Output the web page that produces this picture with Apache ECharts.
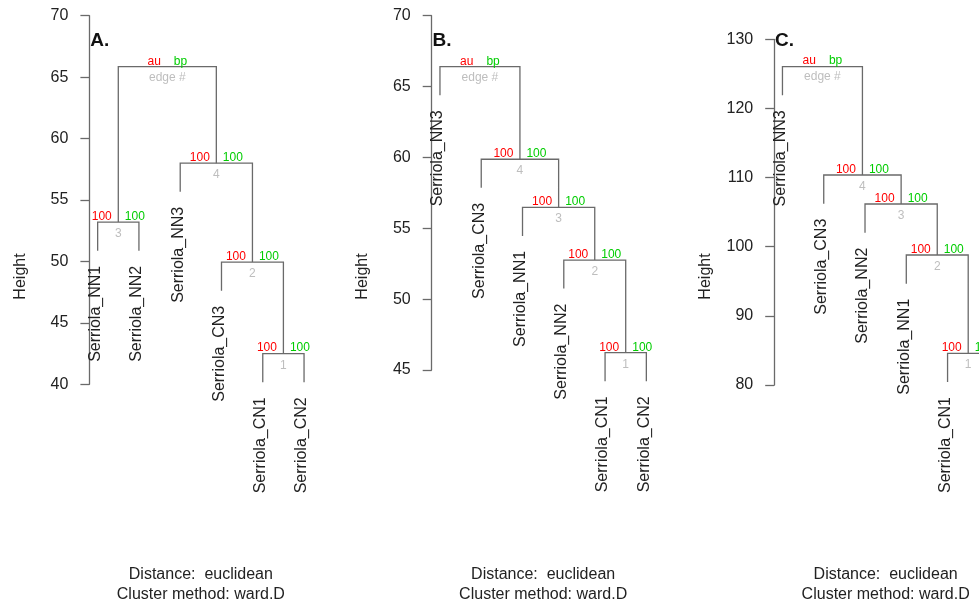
<!DOCTYPE html>
<html>
<head>
<meta charset="utf-8">
<title>Serriola clustering</title>
<script src="https://cdn.jsdelivr.net/npm/echarts@6/dist/echarts.min.js"></script>
<style>
  html, body { margin: 0; padding: 0; background: #fff; overflow: hidden; }
  /* the three panels together are wider than the window; the right one runs off the edge */
  #chart { width: 1030px; height: 606px; }
</style>
</head>
<body>
<div id="chart"></div>
<script>
// ---- Dendrogram data (leaf order as drawn, merges in hclust style) ----
// merge pairs: negative = leaf position (1-based) in the drawn order, positive = earlier merge row
const panelTitles = ['A.', 'B.', 'C.'];

const leavesA = ['Serriola_NN1', 'Serriola_NN2', 'Serriola_NN3', 'Serriola_CN3', 'Serriola_CN1', 'Serriola_CN2'];
const mergeA  = [[-5, -6], [-4, 1], [-1, -2], [-3, 2], [3, 4]];
const heightA = [42.5, 49.95, 53.2, 58.0, 65.85];
const auA     = [100, 100, 100, 100];
const bpA     = [100, 100, 100, 100];
const ticksA  = [40, 45, 50, 55, 60, 65, 70];

const leavesB = ['Serriola_NN3', 'Serriola_CN3', 'Serriola_NN1', 'Serriola_NN2', 'Serriola_CN1', 'Serriola_CN2'];
const mergeB  = [[-5, -6], [-4, 1], [-3, 2], [-2, 3], [-1, 4]];
const heightB = [46.22, 52.76, 56.48, 59.87, 66.4];
const auB     = [100, 100, 100, 100];
const bpB     = [100, 100, 100, 100];
const ticksB  = [45, 50, 55, 60, 65, 70];

const leavesC = ['Serriola_NN3', 'Serriola_CN3', 'Serriola_NN2', 'Serriola_NN1', 'Serriola_CN1', 'Serriola_CN2'];
const mergeC  = [[-5, -6], [-4, 1], [-3, 2], [-2, 3], [-1, 4]];
const heightC = [84.58, 98.8, 106.18, 110.37, 126.04];
const auC     = [100, 100, 100, 100];
const bpC     = [100, 100, 100, 100];
const ticksC  = [80, 90, 100, 110, 120, 130];

const distanceText = 'Distance:  euclidean';
const methodText   = 'Cluster method: ward.D';

// ---- Styling ----
const FONT = '"Liberation Sans", Arial, Helvetica, sans-serif';
const LINE_COLOR = '#6a6a6a';
const TEXT_COLOR = '#222';
const AU_COLOR = '#ff0000';
const BP_COLOR = '#00cd00';
const EDGE_COLOR = '#bebebe';

// plot-region geometry of each panel (px)
const panels = [
  { leaves: leavesA, merge: mergeA, height: heightA, au: auA, bp: bpA, ticks: ticksA, left: 89.4, top: 15.7, h: 368.6 },
  { leaves: leavesB, merge: mergeB, height: heightB, au: auB, bp: bpB, ticks: ticksB, left: 431.7, top: 15.7, h: 354.3 },
  { leaves: leavesC, merge: mergeC, height: heightC, au: auC, bp: bpC, ticks: ticksC, left: 774.2, top: 39.3, h: 345.7 }
];
const PLOT_W = 222.9;

// Turn an hclust-style merge table into drawable pieces
function buildTree(p) {
  const hs = p.height;
  const hang = 0.1 * (Math.max.apply(null, hs) - Math.min.apply(null, hs));
  const nodeX = [];
  const links = [];    // [xLeft, yLeftEnd, xRight, yRightEnd, mergeHeight]
  const leafEnds = []; // [x, yEnd, label]
  const stats = [];    // [xMid, mergeHeight, au, bp, edgeNo, isRoot]
  p.merge.forEach(function (pair, i) {
    const ends = pair.map(function (c) {
      if (c < 0) {
        const pos = -c;
        leafEnds.push([pos, hs[i] - hang, p.leaves[pos - 1]]);
        return [pos, hs[i] - hang];
      }
      return [nodeX[c - 1], hs[c - 1]];
    });
    nodeX[i] = (ends[0][0] + ends[1][0]) / 2;
    links.push([ends[0][0], ends[0][1], ends[1][0], ends[1][1], hs[i]]);
    const isRoot = i === p.merge.length - 1 ? 1 : 0;
    stats.push([nodeX[i], hs[i], isRoot ? 0 : p.au[i], isRoot ? 0 : p.bp[i], i + 1, isRoot]);
  });
  return { links: links, leafEnds: leafEnds, stats: stats };
}

const grids = [], xAxes = [], yAxes = [], series = [], graphics = [];

panels.forEach(function (p, k) {
  const t = buildTree(p);
  grids.push({ left: p.left, top: p.top, width: PLOT_W, height: p.h, containLabel: false });
  xAxes.push({ gridIndex: k, type: 'value', min: 0.8, max: p.leaves.length + 0.2, show: false });
  yAxes.push({
    gridIndex: k, type: 'value',
    min: p.ticks[0], max: p.ticks[p.ticks.length - 1], interval: p.ticks[1] - p.ticks[0],
    axisLine: { show: true, lineStyle: { color: LINE_COLOR, width: 1.3 } },
    axisTick: { show: true, length: 9, lineStyle: { color: LINE_COLOR, width: 1.3 } },
    axisLabel: { margin: 21, color: TEXT_COLOR, fontSize: 16, fontFamily: FONT },
    splitLine: { show: false }
  });

  // branches
  series.push({
    type: 'custom', xAxisIndex: k, yAxisIndex: k, silent: true, animation: false,
    data: t.links,
    renderItem: function (params, api) {
      const a = api.coord([api.value(0), api.value(1)]);
      const b = api.coord([api.value(0), api.value(4)]);
      const c = api.coord([api.value(2), api.value(4)]);
      const d = api.coord([api.value(2), api.value(3)]);
      return {
        type: 'polyline',
        shape: { points: [a, b, c, d] },
        style: { stroke: LINE_COLOR, lineWidth: 1.3, fill: null }
      };
    }
  });

  // leaf labels
  series.push({
    type: 'custom', xAxisIndex: k, yAxisIndex: k, silent: true, animation: false,
    data: t.leafEnds.map(function (d) { return { value: [d[0], d[1]], name: d[2] }; }),
    renderItem: function (params, api) {
      const pt = api.coord([api.value(0), api.value(1)]);
      return {
        type: 'text',
        x: pt[0] - 2, y: pt[1] + 15,
        rotation: Math.PI / 2,
        style: {
          text: t.leafEnds[params.dataIndex][2],
          fill: TEXT_COLOR, fontSize: 16, fontFamily: FONT,
          align: 'right', verticalAlign: 'middle'
        }
      };
    }
  });

  // au / bp / edge numbers
  series.push({
    type: 'custom', xAxisIndex: k, yAxisIndex: k, silent: true, animation: false,
    data: t.stats,
    renderItem: function (params, api) {
      const pt = api.coord([api.value(0), api.value(1)]);
      const root = api.value(5) === 1;
      const base = { fontSize: 12, fontFamily: FONT };
      return {
        type: 'group',
        children: [
          { type: 'text', x: pt[0] - 6.5, y: pt[1] + 0.5,
            style: Object.assign({ text: root ? 'au' : String(api.value(2)), fill: AU_COLOR, align: 'right', verticalAlign: 'bottom' }, base) },
          { type: 'text', x: pt[0] + 6.5, y: pt[1] + 0.5,
            style: Object.assign({ text: root ? 'bp' : String(api.value(3)), fill: BP_COLOR, align: 'left', verticalAlign: 'bottom' }, base) },
          { type: 'text', x: pt[0], y: pt[1] + (root ? 4.5 : 5.8),
            style: Object.assign({ text: root ? 'edge #' : String(api.value(4)), fill: EDGE_COLOR, align: 'center', verticalAlign: 'top' }, base) }
        ]
      };
    }
  });

  const cx = p.left + PLOT_W / 2;
  graphics.push(
    { type: 'text', x: p.left + 0.8, y: 41.1, silent: true,
      style: { text: panelTitles[k], fill: '#111', fontSize: 19, fontWeight: 'bold', fontFamily: FONT, align: 'left', verticalAlign: 'middle' } },
    { type: 'text', x: p.left - 69, y: 276.5, rotation: Math.PI / 2, silent: true,
      style: { text: 'Height', fill: TEXT_COLOR, fontSize: 16, fontFamily: FONT, align: 'center', verticalAlign: 'middle' } },
    { type: 'text', x: cx, y: 574.3, silent: true,
      style: { text: distanceText, fill: TEXT_COLOR, fontSize: 16, fontFamily: FONT, align: 'center', verticalAlign: 'middle' } },
    { type: 'text', x: cx, y: 594.3, silent: true,
      style: { text: methodText, fill: TEXT_COLOR, fontSize: 16, fontFamily: FONT, align: 'center', verticalAlign: 'middle' } }
  );
});

const chart = echarts.init(document.getElementById('chart'), null, { renderer: 'canvas' });
chart.setOption({
  backgroundColor: '#fff',
  animation: false,
  grid: grids,
  xAxis: xAxes,
  yAxis: yAxes,
  series: series,
  graphic: graphics
});
</script>
</body>
</html>
